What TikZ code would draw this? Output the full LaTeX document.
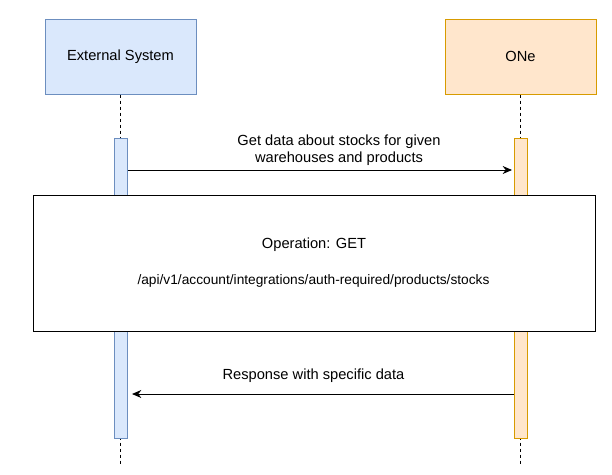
\documentclass[tikz,border=0pt]{standalone}
\usepackage{fontspec}
\setmainfont{Liberation Sans}
\usetikzlibrary{arrows.meta}
\definecolor{bluefill}{HTML}{DAE8FC}
\definecolor{blueline}{HTML}{6C8EBF}
\definecolor{orangefill}{HTML}{FFE6CC}
\definecolor{orangeline}{HTML}{D79B00}
\begin{document}
\begin{tikzpicture}[x=0.75pt,y=-0.75pt,
  every node/.style={font=\fontsize{11pt}{12.6pt}\selectfont, inner sep=0pt},
  participant/.style={draw, line width=0.75pt, minimum width=113.25pt, minimum height=56.25pt},
  actbar/.style={draw, line width=0.75pt, minimum width=9.75pt, minimum height=225pt},
  lifeline/.style={dashed, dash pattern=on 2.25pt off 2.25pt, line width=0.75pt},
  msg/.style={line width=0.75pt, -{Stealth[length=7pt,width=6pt]}}]
\useasboundingbox (0,0) rectangle (612,475);
\node[participant, fill=bluefill, draw=blueline] (ext) at (120.5,56.5) {External System};
\node[participant, fill=orangefill, draw=orangeline] (one) at (520.5,56.5) {ONe};
\coordinate (extend) at (120.5,466);
\coordinate (oneend) at (520.5,466);
\draw[lifeline] (ext.south) -- (extend);
\draw[lifeline] (one.south) -- (oneend);
\node[actbar, fill=bluefill, draw=blueline] (extbar) at (120.5,288) {};
\node[actbar, fill=orangefill, draw=orangeline] (onebar) at (520.5,288.5) {};
\coordinate (tip1) at (512,170);
\draw[msg] (extbar.east |- tip1) -- (tip1);
\node[align=center] (lbl1) at (339,150.5) {Get data about stocks for given\\warehouses and products};
\node[draw, fill=white, line width=0.75pt, minimum width=421.5pt, minimum height=102pt] (op) at (314,263) {};
\node (optext) at (314,245) {Operation: GET};
\node[font=\fontsize{10.3pt}{12pt}\selectfont] (path) at (313.5,281) {/api/v1/account/integrations/auth-required/products/stocks};
\coordinate (tip2) at (132,394);
\draw[msg] (onebar.west |- tip2) -- (tip2);
\node (lbl2) at (313.5,376) {Response with specific data};
\end{tikzpicture}
\end{document}
